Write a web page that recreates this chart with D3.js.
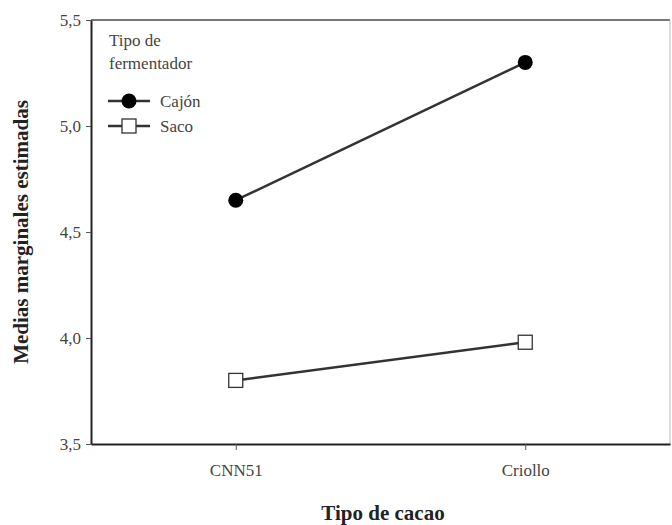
<!DOCTYPE html>
<html>
<head>
<meta charset="utf-8">
<script src="https://cdn.jsdelivr.net/npm/d3@7"></script>
<style>
  body { margin: 0; background: #fff; }
  svg { display: block; font-family: "Liberation Serif", "DejaVu Serif", serif; }
</style>
</head>
<body>
<svg id="chart" width="672" height="525"></svg>
<script>
// Interaction plot: estimated marginal means by cacao type and fermenter type
const categories = ['CNN51', 'Criollo'];
const cajon = [4.65, 5.30];
const saco = [3.80, 3.98];
const yTicks = [3.5, 4.0, 4.5, 5.0, 5.5];

const series = [
  { name: 'Cajón', values: cajon, marker: 'circle' },
  { name: 'Saco', values: saco, marker: 'square' }
];

const svg = d3.select('#chart');
const m = { left: 91, top: 20, right: 670, bottom: 444 };
const serif = '"Liberation Serif", "DejaVu Serif", serif';

const x = d3.scalePoint().domain(categories).range([m.left, m.right]).padding(0.5);
const y = d3.scaleLinear().domain([3.5, 5.5]).range([m.bottom, m.top]);
const fmt = d => d3.format('.1f')(d).replace('.', ',');

// frame: top and right lines
svg.append('line')
  .attr('x1', m.left).attr('x2', m.right)
  .attr('y1', m.top).attr('y2', m.top)
  .attr('stroke', '#777').attr('stroke-width', 2);
svg.append('line')
  .attr('x1', m.right).attr('x2', m.right)
  .attr('y1', m.top).attr('y2', m.bottom)
  .attr('stroke', '#bbb').attr('stroke-width', 1);

// axes
const yAxis = svg.append('g')
  .attr('transform', `translate(${m.left},0)`)
  .call(d3.axisLeft(y).tickValues(yTicks).tickFormat(fmt).tickSize(5).tickSizeOuter(0));
const xAxis = svg.append('g')
  .attr('transform', `translate(0,${m.bottom})`)
  .call(d3.axisBottom(x).tickSize(6).tickSizeOuter(0));

[yAxis, xAxis].forEach(a => {
  a.attr('font-family', serif).attr('font-size', 17);
  a.select('.domain').attr('stroke', '#222').attr('stroke-width', 2);
  a.selectAll('.tick line').attr('stroke', '#555');
  a.selectAll('.tick text').attr('fill', '#444');
});
yAxis.selectAll('.tick text').attr('x', -10);
xAxis.selectAll('.tick text').attr('y', 20);

// lines and markers
const line = d3.line().x((d, i) => x(categories[i])).y(d => y(d));
series.forEach(s => {
  svg.append('path')
    .datum(s.values)
    .attr('d', line)
    .attr('fill', 'none')
    .attr('stroke', '#333')
    .attr('stroke-width', 2.5);
  if (s.marker === 'circle') {
    svg.selectAll(null).data(s.values).enter().append('circle')
      .attr('cx', (d, i) => x(categories[i]))
      .attr('cy', d => y(d))
      .attr('r', 7.5)
      .attr('fill', '#000');
  } else {
    svg.selectAll(null).data(s.values).enter().append('rect')
      .attr('x', (d, i) => x(categories[i]) - 7)
      .attr('y', d => y(d) - 7)
      .attr('width', 14).attr('height', 14)
      .attr('fill', '#fff')
      .attr('stroke', '#333')
      .attr('stroke-width', 1.3);
  }
});

// legend
const lg = svg.append('g').attr('transform', 'translate(108,0)');
lg.append('text').attr('x', 1).attr('y', 46).text('Tipo de')
  .style('font-size', '17px').attr('fill', '#444');
lg.append('text').attr('x', 1).attr('y', 69).text('fermentador')
  .style('font-size', '17px').attr('fill', '#444');
series.forEach((s, i) => {
  const cy = 101 + i * 25;
  const row = lg.append('g');
  row.append('line').attr('x1', 0).attr('x2', 42).attr('y1', cy).attr('y2', cy)
    .attr('stroke', '#333').attr('stroke-width', 2.5);
  if (s.marker === 'circle') {
    row.append('circle').attr('cx', 21).attr('cy', cy).attr('r', 7.5).attr('fill', '#000');
  } else {
    row.append('rect').attr('x', 14).attr('y', cy - 7).attr('width', 14).attr('height', 14)
      .attr('fill', '#fff').attr('stroke', '#333').attr('stroke-width', 1.3);
  }
  row.append('text').attr('x', 52).attr('y', cy + 6).text(s.name)
    .style('font-size', '17px').attr('fill', '#444');
});

// axis titles
svg.append('text')
  .attr('transform', `translate(28,${(m.top + m.bottom) / 2}) rotate(-90)`)
  .attr('text-anchor', 'middle')
  .style('font-size', '21px').style('font-weight', 'bold')
  .attr('fill', '#222')
  .text('Medias marginales estimadas');
svg.append('text')
  .attr('x', 383).attr('y', 520)
  .attr('text-anchor', 'middle')
  .style('font-size', '21px').style('font-weight', 'bold')
  .attr('fill', '#222')
  .text('Tipo de cacao');
</script>
</body>
</html>
